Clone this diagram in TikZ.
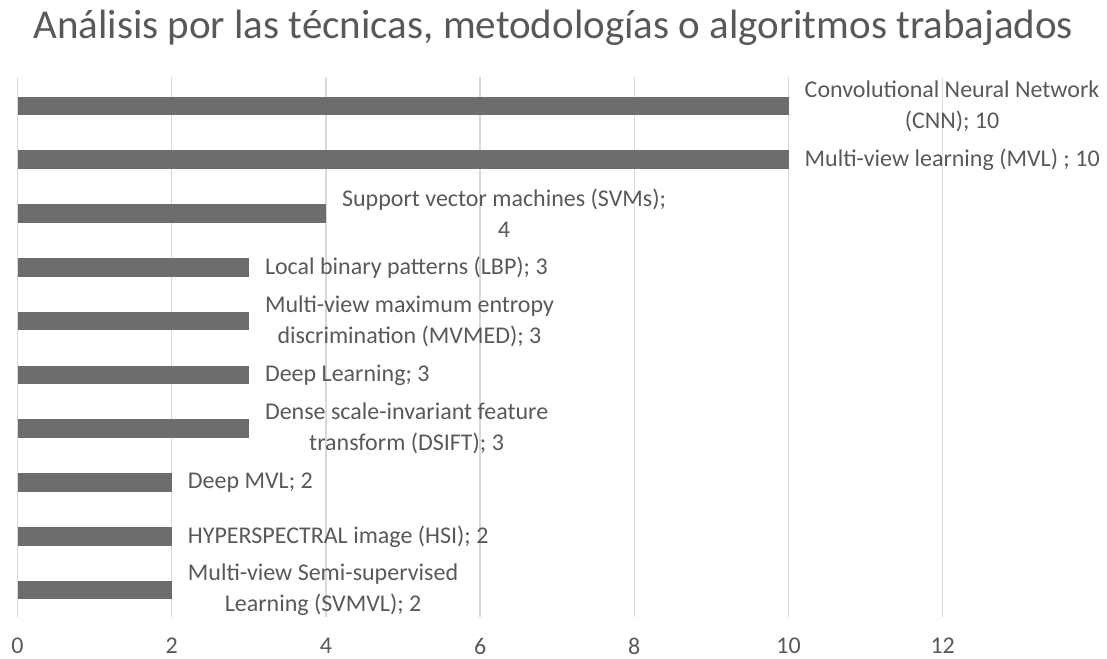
\documentclass[tikz,border=0pt]{standalone}
\usepackage{fontspec}
\setmainfont{Carlito}
\definecolor{txtgray}{HTML}{595959}
\definecolor{bargray}{HTML}{6D6D6D}
\definecolor{gridgray}{HTML}{D9D9D9}
\tikzset{
  bar/.style={fill=bargray},
  gridline/.style={draw=gridgray, line width=1.3pt},
  barlabel/.style={anchor=west, inner sep=0pt, align=center, text=txtgray, font=\fontsize{24}{31}\selectfont},
  ticklabel/.style={inner sep=0pt, text=txtgray, font=\fontsize{24}{28}\selectfont},
}
\begin{document}
\begin{tikzpicture}[x=77.1pt,y=1pt]
\useasboundingbox (-0.227,0) rectangle (14.131,659);

\node[text=txtgray, font=\fontsize{41}{46}\selectfont] (title) at (6.95,631)
  {Análisis por las técnicas, metodologías o algoritmos trabajados};

\foreach \v in {0,2,...,12} {
  \draw[gridline] (\v,582) -- (\v,42);
  \node[ticklabel] (tick\v) at (\v,13) {\v};
}

\foreach \v [count=\i, evaluate=\i as \yc using 553-53.8*(\i-1)] in {10,10,4,3,3,3,3,2,2,2} {
  \fill[bar] (0,\yc-9.3) rectangle (\v,\yc+9.3);
  \coordinate (end\i) at (\v,\yc);
}

\node[barlabel] (cnn) at ([xshift=16pt]end1) {Convolutional Neural Network\\(CNN); 10};
\node[barlabel] (mvl) at ([xshift=16pt]end2) {Multi-view learning (MVL) ; 10};
\node[barlabel] (svm) at ([xshift=16pt]end3) {Support vector machines (SVMs);\\4};
\node[barlabel] (lbp) at ([xshift=16pt]end4) {Local binary patterns (LBP); 3};
\node[barlabel] (mvmed) at ([xshift=16pt]end5) {Multi-view maximum entropy\\discrimination (MVMED); 3};
\node[barlabel] (dl) at ([xshift=16pt]end6) {Deep Learning; 3};
\node[barlabel] (dsift) at ([xshift=16pt]end7) {Dense scale-invariant feature\\transform (DSIFT); 3};
\node[barlabel] (dmvl) at ([xshift=16pt]end8) {Deep MVL; 2};
\node[barlabel] (hsi) at ([xshift=16pt]end9) {HYPERSPECTRAL image (HSI); 2};
\node[barlabel] (svmvl) at ([xshift=16pt]end10) {Multi-view Semi-supervised\\Learning (SVMVL); 2};

\end{tikzpicture}
\end{document}
